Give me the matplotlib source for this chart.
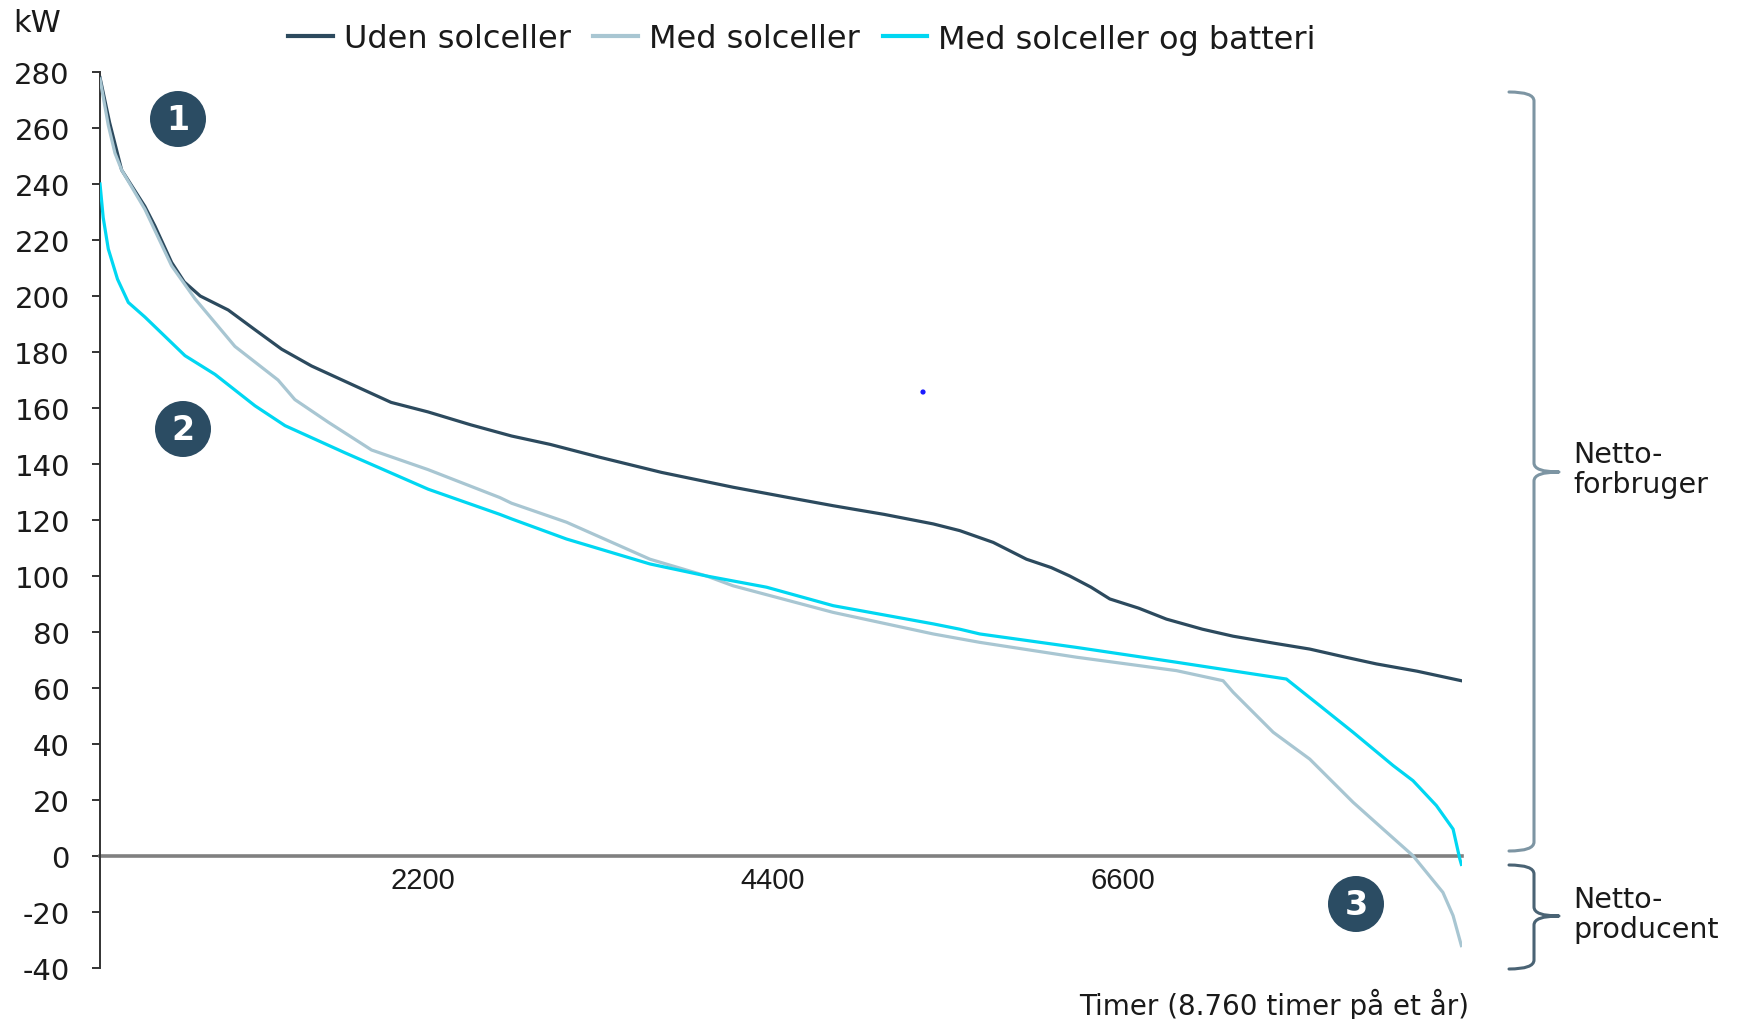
import matplotlib
matplotlib.use("Agg")
import matplotlib.pyplot as plt
from matplotlib.path import Path
from matplotlib.patches import PathPatch, Circle
from matplotlib.transforms import Affine2D
from matplotlib.lines import Line2D

# Load duration curves (hour rank -> kW)
uden_hours = [170, 230, 306, 452, 515, 620, 700, 800, 976, 1143, 1312, 1500, 1815, 2000,
              2232, 2500, 2757, 3000, 3312, 3700, 4150, 4500, 4779, 5100, 5408, 5575,
              5785, 5994, 6150, 6266, 6400, 6518, 6700, 6874, 7100, 7293, 7550, 7775,
              8000, 8194, 8450, 8728]
uden_kw = [278, 262, 245, 232, 225, 212, 205, 200, 195, 188, 181, 175, 166.8, 162,
           158.6, 154, 150, 147, 142.4, 137, 131.7, 128, 125.1, 122, 118.6, 116.2,
           112, 106, 103, 100, 96, 91.8, 88.5, 84.6, 81, 78.5, 76, 73.9,
           71, 68.6, 66, 62.6]

med_hours = [170, 222, 264, 306, 452, 620, 767, 1018, 1289, 1395, 1603, 1877, 2232,
             2684, 2757, 3103, 3627, 3983, 4150, 4779, 5408, 5701, 6308, 6937, 7230,
             7293, 7545, 7775, 8047, 8236, 8424, 8612, 8676, 8728]
med_kw = [277.5, 261, 251, 245, 231, 210.8, 199, 182, 170, 163, 155, 145, 138,
          128, 126, 119.2, 106, 100, 96.5, 87, 79.3, 76.3, 71, 66.2, 62.6,
          58.5, 44.2, 34.6, 19.2, 9.6, 0.1, -13, -21.3, -32]

batt_hours = [170, 190, 222, 280, 348, 452, 704, 893, 1144, 1333, 1710, 2233, 2684,
              2757, 3103, 3627, 3983, 4360, 4779, 5408, 5575, 5701, 6308, 6937, 7628,
              7838, 8047, 8299, 8424, 8571, 8676, 8718, 8728]
batt_kw = [240, 228, 216.8, 206, 197.7, 192.5, 178.7, 172, 160.8, 153.7, 144, 131, 122,
           120.4, 113.2, 104.3, 100, 96, 89.4, 82.9, 81, 79.3, 74.5, 69.2, 63.2,
           53.7, 44.2, 32.3, 26.9, 18, 9.6, -1, -3]

series_labels = ["Uden solceller", "Med solceller", "Med solceller og batteri"]
x_ticks = [2200, 4400, 6600]
y_ticks = list(range(-40, 281, 20))

C_DARK = "#2c4a5e"
C_LIGHT = "#a8c6d2"
C_CYAN = "#00d7f2"
C_BADGE = "#2b4c63"

W, H = 1737, 1020
fig = plt.figure(figsize=(W / 100, H / 100), dpi=100)
fig.patch.set_facecolor("white")

ax = fig.add_axes([99.7 / W, 1 - 969 / H, (1462 - 99.7) / W, (969 - 73) / H])
ax.plot(uden_hours, uden_kw, color=C_DARK, lw=2.3, label=series_labels[0], zorder=3)
ax.plot(med_hours, med_kw, color=C_LIGHT, lw=2.3, label=series_labels[1], zorder=3)
ax.plot(batt_hours, batt_kw, color=C_CYAN, lw=2.3, label=series_labels[2], zorder=4)

ax.set_xlim(168, 8732)
ax.set_ylim(-40, 280)

for s in ("top", "right"):
    ax.spines[s].set_visible(False)
ax.spines["left"].set_color("#333333")
ax.spines["left"].set_linewidth(1.4)
ax.spines["bottom"].set_position(("data", 0))
ax.spines["bottom"].set_color("#808080")
ax.spines["bottom"].set_linewidth(2.6)
ax.spines["bottom"].set_zorder(2)

TEXT_FONT = ["DejaVu Sans"]

ax.set_yticks(y_ticks)
ax.set_yticklabels([str(v) for v in y_ticks], fontsize=21,
                   family=TEXT_FONT, color="#1a1a1a")
ax.tick_params(axis="y", direction="out", length=6, width=1.4, color="#333333", pad=15.5)

ax.set_xticks(x_ticks)
ax.set_xticklabels([str(v) for v in x_ticks], fontsize=21,
                   family=["Liberation Sans Narrow", "Liberation Sans"], color="#1a1a1a")
ax.tick_params(axis="x", length=0, pad=7)

fig.text(37 / W, 1 - 23 / H, "kW", fontsize=22, family=TEXT_FONT,
         ha="center", va="center", color="#1a1a1a")

handles = [Line2D([], [], color=c, lw=3) for c in (C_DARK, C_LIGHT, C_CYAN)]
fig.legend(handles, series_labels, loc="center", bbox_to_anchor=(802 / W, 1 - 40 / H),
           ncol=3, frameon=False, handlelength=1.4, handletextpad=0.35,
           columnspacing=0.7, prop={"family": TEXT_FONT, "size": 23},
           labelcolor="#1a1a1a")

fig.text(1469 / W, 1 - 1005 / H, "Timer (8.760 timer på et år)", fontsize=20,
         family=TEXT_FONT, ha="right", va="center", color="#1a1a1a")

# Pixel-space transform (origin top-left) for annotations outside the axes
px = Affine2D().scale(1 / W, -1 / H).translate(0, 1) + fig.transFigure


def brace(top, bottom, mid, xl, xv, xt, r, color):
    verts = [(xl, top), (xv, top), (xv, top + r),
             (xv, mid - r), (xv, mid), (xt, mid),
             (xv, mid), (xv, mid + r),
             (xv, bottom - r), (xv, bottom), (xl, bottom)]
    codes = [Path.MOVETO, Path.CURVE3, Path.CURVE3,
             Path.LINETO, Path.CURVE3, Path.CURVE3,
             Path.CURVE3, Path.CURVE3,
             Path.LINETO, Path.CURVE3, Path.CURVE3]
    fig.add_artist(PathPatch(Path(verts, codes), transform=px, fill=False,
                             edgecolor=color, lw=2.2, capstyle="round",
                             joinstyle="round"))


brace(93, 852, 473, 1509, 1534, 1559, 9, "#7d95a3")
brace(866, 970, 917, 1509, 1534, 1559, 9, "#4a6374")

fig.text(1573 / W, 1 - 470 / H, "Netto-\nforbruger", fontsize=20.5, family=TEXT_FONT,
         ha="left", va="center", linespacing=1.05, color="#1a1a1a")
fig.text(1573 / W, 1 - 915 / H, "Netto-\nproducent", fontsize=20.5, family=TEXT_FONT,
         ha="left", va="center", linespacing=1.05, color="#1a1a1a")

# Numbered markers
for num, (cx, cy) in zip(("1", "2", "3"), [(178, 120), (183, 430), (1356, 905)]):
    fig.add_artist(Circle((cx, cy), 28, transform=px, facecolor=C_BADGE,
                          edgecolor="none", zorder=5))
    fig.text(cx / W, 1 - (cy + 1) / H, num, fontsize=24, fontweight="bold",
             family=TEXT_FONT, color="white", ha="center", va="center", zorder=6)

fig.add_artist(Circle((923, 393), 2.6, transform=px, facecolor="#1a1aff",
                      edgecolor="none", zorder=5))

fig.savefig("out.png", dpi=100, facecolor="white")
